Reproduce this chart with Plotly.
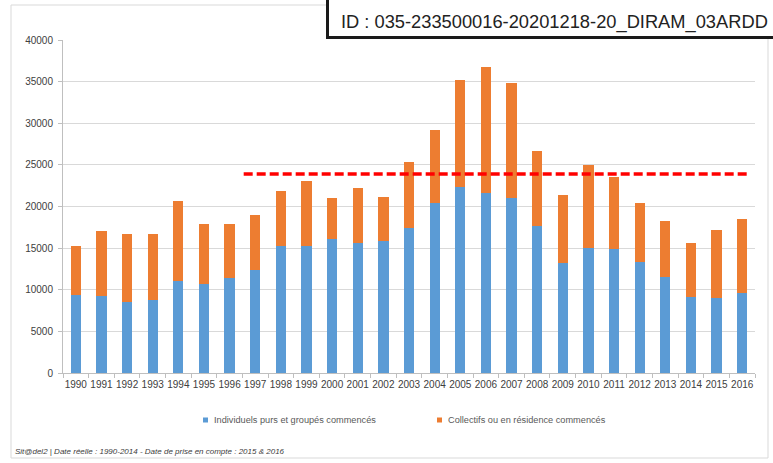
import plotly.graph_objects as go

# Housing starts per year (logements commencés)
years = [str(y) for y in range(1990, 2017)]
individuels = [9320, 9240, 8560, 8720, 11080, 10640, 11360, 12360, 15240, 15280,
               16040, 15640, 15840, 17440, 20400, 22320, 21680, 21040, 17680, 13160,
               15040, 14880, 13280, 11480, 9120, 9000, 9560]
collectifs = [5920, 7800, 8160, 7920, 9640, 7280, 6560, 6600, 6600, 7760,
              4960, 6600, 5280, 7880, 8840, 12840, 15080, 13800, 8960, 8280,
              9920, 8720, 7160, 6800, 6520, 8120, 8920]

# Reference level drawn as a dashed line over 1997-2016
ref_value = 23900
ref_start, ref_end = "1997", "2016"

series_names = ["Individuels purs et groupés commencés",
                "Collectifs ou en résidence commencés"]
colors = ["#5b9bd5", "#ed7d31"]

W, H = 773, 463
ML, MR, MT, MB = 63, 18, 40, 90
PW, PH = W - ML - MR, H - MT - MB


def px(x):
    return (x - ML) / PW


def py(y):
    return (H - MB - y) / PH


FONT = "Liberation Sans, Arial, sans-serif"

fig = go.Figure()
fig.add_bar(x=years, y=individuels, name=series_names[0],
            marker=dict(color=colors[0], line=dict(width=0)))
fig.add_bar(x=years, y=collectifs, name=series_names[1],
            marker=dict(color=colors[1], line=dict(width=0)))

shapes = [
    # dashed reference line
    dict(type="line", xref="x", yref="y",
         x0=years.index(ref_start) - 0.45, x1=years.index(ref_end) + 0.3,
         y0=ref_value, y1=ref_value,
         line=dict(color="#ff0000", width=3.5, dash="9px,4px"), layer="above"),
    # outer chart frame
    dict(type="rect", xref="paper", yref="paper",
         x0=px(11), x1=px(768), y0=py(458), y1=py(5),
         line=dict(color="#d9d9d9", width=1), fillcolor="rgba(0,0,0,0)", layer="below"),
    # identifier box
    dict(type="rect", xref="paper", yref="paper",
         x0=px(327.5), x1=px(800), y0=py(37.5), y1=py(-20),
         line=dict(color="#1a1a1a", width=3), fillcolor="white", layer="above"),
    # legend swatches
    dict(type="rect", xref="paper", yref="paper",
         x0=px(203), x1=px(208), y0=py(422.5), y1=py(417.5),
         line=dict(width=0), fillcolor=colors[0]),
    dict(type="rect", xref="paper", yref="paper",
         x0=px(437), x1=px(442), y0=py(422.5), y1=py(417.5),
         line=dict(width=0), fillcolor=colors[1]),
]

annotations = [
    dict(text="ID : 035-233500016-20201218-20_DIRAM_03ARDD", xref="paper", yref="paper",
         x=px(339), y=py(22), xanchor="left", yanchor="middle", showarrow=False,
         font=dict(family=FONT, size=18.3, color="#222222")),
    dict(text=series_names[0], xref="paper", yref="paper",
         x=px(212), y=py(420), xanchor="left", yanchor="middle", showarrow=False,
         font=dict(family=FONT, size=9.2, color="#595959")),
    dict(text=series_names[1], xref="paper", yref="paper",
         x=px(446), y=py(420), xanchor="left", yanchor="middle", showarrow=False,
         font=dict(family=FONT, size=9.2, color="#595959")),
    dict(text="<i>Sit@del2 | Date réelle : 1990-2014 - Date de prise en compte : 2015 &amp; 2016</i>",
         xref="paper", yref="paper",
         x=px(13), y=py(451), xanchor="left", yanchor="middle", showarrow=False,
         font=dict(family=FONT, size=8, color="#404040")),
]

fig.update_layout(
    width=W, height=H,
    margin=dict(l=ML, r=MR, t=MT, b=MB),
    barmode="stack", bargap=0.6,
    showlegend=False,
    paper_bgcolor="white", plot_bgcolor="white",
    font=dict(family=FONT, size=10, color="#595959"),
    shapes=shapes, annotations=annotations,
    xaxis=dict(type="category", tickson="boundaries", ticks="outside", ticklen=4,
               tickcolor="#bfbfbf", showline=True, linecolor="#bfbfbf", linewidth=1,
               showgrid=False, tickfont=dict(size=10, color="#404040"),
               tickangle=0, ticklabelstandoff=2),
    yaxis=dict(range=[0, 40000], dtick=5000, tickformat="d", showgrid=True,
               gridcolor="#d9d9d9", showline=True, linecolor="#bfbfbf", linewidth=1,
               ticks="outside", ticklen=4, tickcolor="#bfbfbf", zeroline=False,
               ticklabelstandoff=3, tickfont=dict(size=10, color="#404040")),
)

fig.write_html("out.html")
